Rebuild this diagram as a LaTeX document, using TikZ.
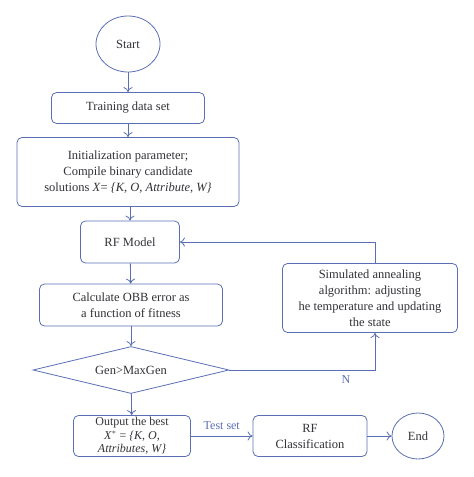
\documentclass[tikz,border=0pt]{standalone}
\usepackage{fontspec}
\setmainfont{Liberation Serif}
\usetikzlibrary{shapes.geometric,arrows.meta}
\definecolor{lineblue}{RGB}{90,110,180}
\definecolor{txtgray}{RGB}{50,50,55}
\tikzset{
  box/.style={draw=lineblue,rounded corners=5pt,align=center,text=txtgray,inner sep=1pt,line width=0.8pt},
  oval/.style={draw=lineblue,ellipse,text=txtgray,inner sep=0pt,line width=0.8pt},
  arr/.style={draw=lineblue,line width=0.8pt,-{To[length=5pt,width=9pt]}}
}
\begin{document}
\begin{tikzpicture}[x=1pt,y=-1pt,font=\fontsize{12.5}{16}\selectfont]
\useasboundingbox (0,0) rectangle (474,477);
\node[oval,minimum width=64pt,minimum height=56pt] (start) at (128,44) {Start};
\node[box,minimum width=153pt,minimum height=31pt] (train) at (128,108) {Training data set};
\node[box,minimum width=222pt,minimum height=69pt] (init) at (128,172)
  {Initialization parameter;\\Compile binary candidate\\solutions \textit{X}= \textit{\{K}, \textit{O}, \textit{Attribute}, \textit{W\}}};
\node[box,minimum width=99pt,minimum height=42pt] (rf) at (130,242) {RF Model};
\node[box,minimum width=183pt,minimum height=42pt] (obb) at (131,305) {Calculate OBB error as\\a function of fitness};
\node[draw=lineblue,diamond,aspect=4.2,inner sep=0pt,line width=0.8pt,text=txtgray,
  minimum width=196pt,minimum height=47pt] (gen) at (131,370) {Gen>MaxGen};
\node[box,minimum width=117pt,minimum height=41pt,inner sep=0pt,font=\fontsize{12}{13.5}\selectfont] (best) at (132,436)
  {Output the best\\\textit{X}$^{*}$ = \textit{\{K}, \textit{O},\\\textit{Attributes}, \textit{W\}}};
\node[box,minimum width=114pt,minimum height=41pt] (cls) at (310,436) {RF\\Classification};
\node[oval,minimum width=52pt,minimum height=46pt] (end) at (418,436) {End};
\node[box,minimum width=175pt,minimum height=69pt] (sa) at (370,298)
  {Simulated annealing\\algorithm: adjusting\\he temperature and updating\\the state};
% main flow
\draw[arr] (start) -- (train);
\draw[arr] (train) -- (init);
\draw[arr] (init.south -| rf.north) -- (rf);
\draw[arr] (rf) -- (obb);
\draw[arr] (obb) -- (gen);
\draw[arr] (gen) -- (best);
\draw[arr] (best) -- node[above,text=lineblue,yshift=3pt,font=\fontsize{12}{14}\selectfont] (ts) {Test set} (cls);
\draw[arr] (cls) -- (end);
% loop back
\coordinate (sain) at (375,333);
\coordinate (saout) at (375,264);
\draw[arr] (gen.east) -| node[pos=0.4,below,text=lineblue,yshift=-2pt,font=\fontsize{12}{14}\selectfont] (n) {N} (sain);
\draw[arr] (saout) |- (rf.east);
\end{tikzpicture}
\end{document}
